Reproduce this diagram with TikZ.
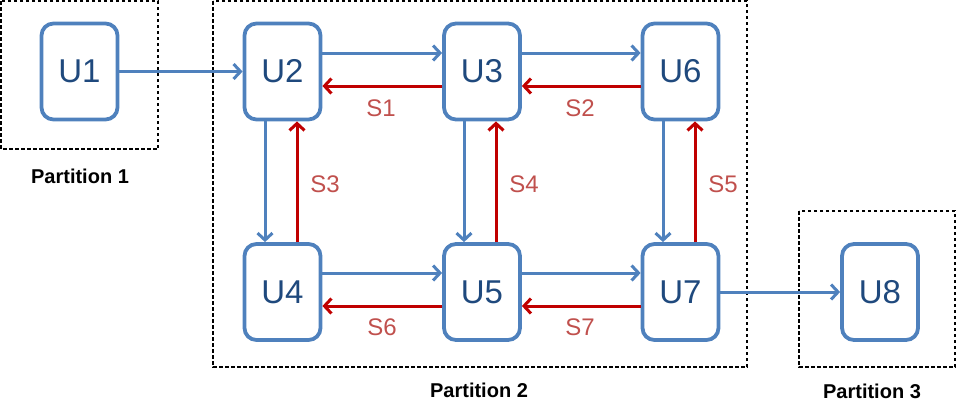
\documentclass[tikz,border=0pt]{standalone}
\usepackage{fontspec}
\setmainfont{Liberation Sans}
\usetikzlibrary{arrows.meta}
\definecolor{ublue}{HTML}{4F81BD}
\definecolor{utext}{HTML}{1F497D}
\definecolor{sred}{HTML}{C00000}
\definecolor{slabel}{HTML}{C0504D}
\begin{document}
\begin{tikzpicture}[x=1pt,y=-1pt,
  unit/.style={draw=ublue,line width=3.8pt,rounded corners=12pt,minimum width=76pt,minimum height=96pt,inner sep=0pt,text=utext,font=\fontsize{33}{36}\selectfont},
  part/.style={draw=black,line width=1.4pt,dash pattern=on 3.5pt off 2.5pt},
  plabel/.style={font=\bfseries\fontsize{20}{23}\selectfont},
  fwd/.style={draw=ublue,line width=3pt,-{Straight Barb[length=7pt,width=15pt,line width=3pt]}},
  bwd/.style={draw=sred,line width=3pt,-{Straight Barb[length=7pt,width=15pt,line width=3pt]}},
  slab/.style={text=slabel,font=\fontsize{24}{28}\selectfont}]
\useasboundingbox (0,0) rectangle (957,416);
% partitions
\draw[part] (1,1) rectangle (158,149);
\draw[part] (213,1) rectangle (747,367);
\draw[part] (799,211) rectangle (955,367);
\node[plabel] (p1) at (80,176) {Partition 1};
\node[plabel] (p2) at (479,390) {Partition 2};
\node[plabel] (p3) at (872,391) {Partition 3};
% units
\node[unit] (u1) at (79.5,71.5) {U1};
\node[unit] (u2) at (282.5,71.5) {U2};
\node[unit] (u3) at (482,71.5) {U3};
\node[unit] (u6) at (680.5,71.5) {U6};
\node[unit] (u4) at (282.5,292) {U4};
\node[unit] (u5) at (482,292) {U5};
\node[unit] (u7) at (680.5,292) {U7};
\node[unit] (u8) at (880,292) {U8};
% horizontal connectors
\draw[fwd] (u1.east) -- (u2.west);
\draw[fwd] (u7.east) -- (u8.west);
\draw[fwd] ([yshift=18.5pt]u2.east) -- ([yshift=18.5pt]u3.west);
\draw[bwd] ([yshift=-14.5pt]u3.west) -- ([yshift=-14.5pt]u2.east);
\draw[fwd] ([yshift=18.5pt]u3.east) -- ([yshift=18.5pt]u6.west);
\draw[bwd] ([yshift=-14.5pt]u6.west) -- ([yshift=-14.5pt]u3.east);
\draw[fwd] ([yshift=19pt]u4.east) -- ([yshift=19pt]u5.west);
\draw[bwd] ([yshift=-14pt]u5.west) -- ([yshift=-14pt]u4.east);
\draw[fwd] ([yshift=19pt]u5.east) -- ([yshift=19pt]u7.west);
\draw[bwd] ([yshift=-14pt]u7.west) -- ([yshift=-14pt]u5.east);
% vertical connectors
\draw[fwd] ([xshift=-17.5pt]u2.south) -- ([xshift=-17.5pt]u4.north);
\draw[bwd] ([xshift=14.5pt]u4.north) -- ([xshift=14.5pt]u2.south);
\draw[fwd] ([xshift=-18pt]u3.south) -- ([xshift=-18pt]u5.north);
\draw[bwd] ([xshift=14pt]u5.north) -- ([xshift=14pt]u3.south);
\draw[fwd] ([xshift=-17.5pt]u6.south) -- ([xshift=-17.5pt]u7.north);
\draw[bwd] ([xshift=14.5pt]u7.north) -- ([xshift=14.5pt]u6.south);
% labels
\node[slab] (s1) at (381,108) {S1};
\node[slab] (s2) at (580,108) {S2};
\node[slab] (s3) at (325,184) {S3};
\node[slab] (s4) at (524,184) {S4};
\node[slab] (s5) at (723,184) {S5};
\node[slab] (s6) at (382,327) {S6};
\node[slab] (s7) at (580,327) {S7};
\end{tikzpicture}
\end{document}
